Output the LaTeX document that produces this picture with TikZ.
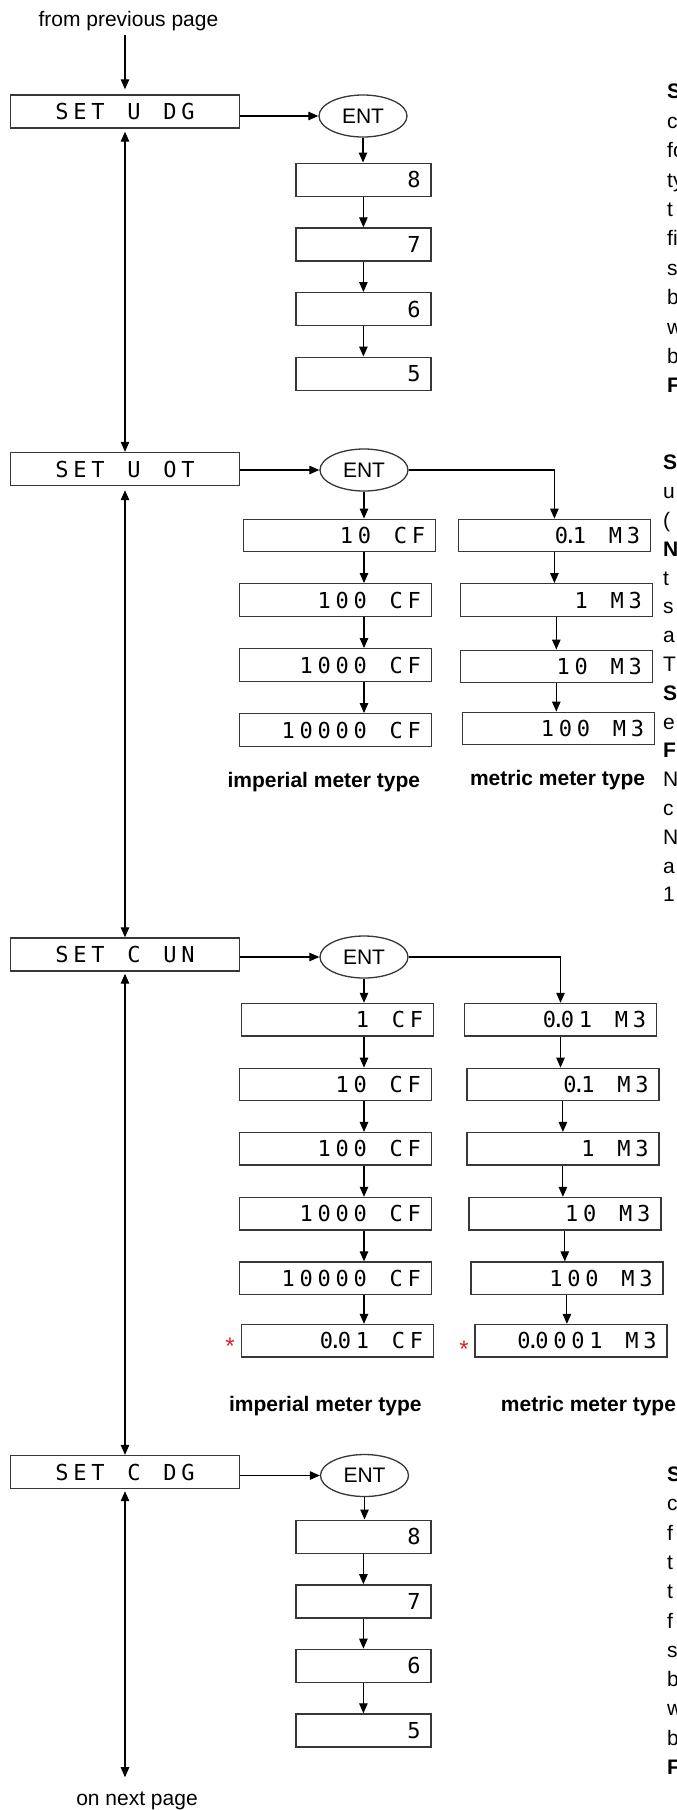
\documentclass[tikz,border=0pt]{standalone}
\usepackage{fontspec}
\setmainfont{Liberation Sans}
\newfontfamily\lcdfont{DejaVu Sans Mono}
\usetikzlibrary{arrows.meta,shapes.geometric}
\definecolor{boxgray}{RGB}{55,55,55}
\definecolor{astred}{RGB}{215,35,45}
\newlength\lcdw
\setlength\lcdw{18pt}
\makeatletter
\def\lcd#1{\lcd@loop#1\relax}
\def\lcd@loop#1{\ifx#1\relax\else\ifx#1.\makebox[0pt][c]{.}\else\makebox[\lcdw][c]{#1}\fi\expandafter\lcd@loop\fi}
\makeatother
\begin{document}
\begin{tikzpicture}[x=1pt,y=-1pt,
  lcdbox/.style={draw=boxgray, line width=1.4pt, minimum height=33pt, inner sep=0pt, font=\lcdfont\fontsize{22}{24}\selectfont},
  setbox/.style={lcdbox, minimum width=229pt},
  numbox/.style={lcdbox, minimum width=135pt, text width=119pt, align=right},
  unitbox/.style={lcdbox, minimum width=192pt, minimum height=32.5pt, text width=176pt, align=right},
  entnode/.style={ellipse, draw=boxgray, line width=1.3pt, minimum width=88pt, minimum height=42pt, inner sep=0pt, font=\fontsize{21}{24}\selectfont},
  arr/.style={-{Triangle[length=10pt,width=8.5pt]}, line width=1.1pt},
  darr/.style={{Triangle[length=10pt,width=8.5pt]}-{Triangle[length=10pt,width=8.5pt]}, line width=1.1pt},
  lbl/.style={font=\fontsize{21}{24}\selectfont, inner sep=0pt, anchor=base},
  typelbl/.style={font=\bfseries\fontsize{21}{24}\selectfont, inner sep=0pt, anchor=base},
  sidetxt/.style={font=\fontsize{21}{24}\selectfont, inner sep=0pt, anchor=base west},
  redstar/.style={text=astred, font=\fontsize{24}{24}\selectfont, inner sep=0pt, anchor=base},
]
\useasboundingbox (0,0) rectangle (677,1810);
\fill[white] (0,0) rectangle (677,1810);

% ---------- SET U DG ----------
\node[lbl] (fromtxt) at (128.4,26) {from previous page};
\node[setbox] (setA) at (125,111.5) {\lcd{SET~U~DG}};
\node[entnode] (entA) at (363,116) {ENT};
\node[numbox] (dA1) at (363.4,179.7) {\lcd{8}};
\node[numbox] (dA2) at (363.4,244.5) {\lcd{7}};
\node[numbox] (dA3) at (363.4,309.2) {\lcd{6}};
\node[numbox] (dA4) at (363.4,373.7) {\lcd{5}};

% ---------- SET U OT ----------
\node[setbox] (setB) at (125,469) {\lcd{SET~U~OT}};
\node[entnode] (entB) at (364,470) {ENT};
\node[unitbox] (iB1) at (339.6,535.5) {\lcd{10~CF}};
\node[unitbox] (iB2) at (335.3,600) {\lcd{100~CF}};
\node[unitbox] (iB3) at (335.3,665) {\lcd{1000~CF}};
\node[unitbox] (iB4) at (335.3,730) {\lcd{10000~CF}};
\node[unitbox] (mB1) at (554.4,535.5) {\lcd{0.1~M3}};
\node[unitbox] (mB2) at (556.3,600) {\lcd{1~M3}};
\node[unitbox] (mB3) at (556.3,666.5) {\lcd{10~M3}};
\node[unitbox] (mB4) at (558.4,728.5) {\lcd{100~M3}};
\node[typelbl] (iBl) at (323.8,787) {imperial meter type};
\node[typelbl] (mBl) at (557.6,785) {metric meter type};

% ---------- SET C UN ----------
\node[setbox] (setC) at (125,954.5) {\lcd{SET~C~UN}};
\node[entnode] (entC) at (364,957) {ENT};
\node[unitbox] (iC1) at (337.4,1019.7) {\lcd{1~CF}};
\node[unitbox] (iC2) at (335.3,1084.5) {\lcd{10~CF}};
\node[unitbox] (iC3) at (335.3,1148.9) {\lcd{100~CF}};
\node[unitbox] (iC4) at (335.3,1213.7) {\lcd{1000~CF}};
\node[unitbox] (iC5) at (335.3,1278.3) {\lcd{10000~CF}};
\node[unitbox] (iC6) at (337.4,1340.8) {\lcd{0.01~CF}};
\node[unitbox] (mC1) at (560.5,1019.7) {\lcd{0.01~M3}};
\node[unitbox] (mC2) at (562.9,1084.5) {\lcd{0.1~M3}};
\node[unitbox] (mC3) at (562.9,1148.9) {\lcd{1~M3}};
\node[unitbox] (mC4) at (564.8,1213.7) {\lcd{10~M3}};
\node[unitbox] (mC5) at (566.9,1278.3) {\lcd{100~M3}};
\node[unitbox] (mC6) at (571,1340.8) {\lcd{0.0001~M3}};
\node[redstar] (starI) at (230,1354) {*};
\node[redstar] (starM) at (464,1357) {*};
\node[typelbl] (iCl) at (325.3,1411.5) {imperial meter type};
\node[typelbl] (mCl) at (588.5,1411.5) {metric meter type};

% ---------- SET C DG ----------
\node[setbox] (setD) at (125,1472) {\lcd{SET~C~DG}};
\node[entnode] (entD) at (364.5,1475.5) {ENT};
\node[numbox] (dD1) at (363.4,1536.7) {\lcd{8}};
\node[numbox] (dD2) at (363.4,1601.3) {\lcd{7}};
\node[numbox] (dD3) at (363.4,1665.8) {\lcd{6}};
\node[numbox] (dD4) at (363.4,1730.5) {\lcd{5}};
\node[lbl] (nexttxt) at (137,1805) {on next page};

% ---------- main spine ----------
\draw[arr, shorten <=4.5pt, shorten >=5pt] (fromtxt.south -| setA.north) -- (setA.north);
\draw[darr, shorten <=3pt] (setA.south) -- (setB.north);
\draw[darr, shorten <=4pt] (setB.south) -- (setC.north);
\draw[darr, shorten <=2pt] (setC.south) -- (setD.north);
\draw[darr, shorten <=2pt, shorten >=14pt] (setD.south) -- (nexttxt.north -| setD.south);

% ---------- SET U DG branch ----------
\draw[arr] (setA.east |- entA.west) -- (entA.west);
\draw[arr] (entA.south) -- (entA.south |- dA1.north);
\draw[arr] (dA1.south) -- (dA2.north);
\draw[arr] (dA2.south) -- (dA3.north);
\draw[arr] (dA3.south) -- (dA4.north);

% ---------- SET U OT branch ----------
\draw[arr] (setB.east |- entB.west) -- (entB.west);
\draw[arr] (entB.south) -- (entB.south |- iB1.north);
\draw[arr] (iB1.south -| entB.south) -- (iB2.north -| entB.south);
\draw[arr] (iB2.south -| entB.south) -- (iB3.north -| entB.south);
\draw[arr] (iB3.south -| entB.south) -- (iB4.north -| entB.south);
\draw[arr] (entB.east) -| (mB1.north);
\draw[arr] (mB1.south) -- (mB1.south |- mB2.north);
\draw[arr] (mB2.south) -- (mB2.south |- mB3.north);
\draw[arr] (mB3.south) -- (mB3.south |- mB4.north);

% ---------- SET C UN branch ----------
\draw[arr] (setC.east |- entC.west) -- (entC.west);
\draw[arr] (entC.south) -- (entC.south |- iC1.north);
\draw[arr] (iC1.south -| entC.south) -- (iC2.north -| entC.south);
\draw[arr] (iC2.south -| entC.south) -- (iC3.north -| entC.south);
\draw[arr] (iC3.south -| entC.south) -- (iC4.north -| entC.south);
\draw[arr] (iC4.south -| entC.south) -- (iC5.north -| entC.south);
\draw[arr] (iC5.south -| entC.south) -- (iC6.north -| entC.south);
\draw[arr] (entC.east) -| (mC1.north);
\draw[arr] (mC1.south) -- (mC1.south |- mC2.north);
\draw[arr] (mC2.south) -- (mC2.south |- mC3.north);
\draw[arr] (mC3.south) -- (mC3.south |- mC4.north);
\draw[arr] (mC4.south) -- (mC4.south |- mC5.north);
\draw[arr] (mC5.south) -- (mC5.south |- mC6.north);

% ---------- SET C DG branch ----------
\draw[arr] (setD.east |- entD.west) -- (entD.west);
\draw[arr] (entD.south) -- (entD.south |- dD1.north);
\draw[arr] (dD1.south) -- (dD2.north);
\draw[arr] (dD2.south) -- (dD3.north);
\draw[arr] (dD3.south) -- (dD4.north);

% ---------- clipped description text at the right edge ----------
\begin{scope}
\clip (0,0) rectangle (677,1810);
\foreach \t [count=\i from 0] in {{\bfseries S},{c},{fo},{ty},{t},{fi},{s},{b},{w},{b},{\bfseries F}}
  \node[sidetxt] (pA\i) at (667,98.8+29.4*\i) {\t};
\foreach \t [count=\i from 0] in {{\bfseries S},{u},{(},{\bfseries N},{t},{s},{a},{T},{\bfseries S},{e},{\bfseries F},{N},{c},{N},{a},{1}}
  \node[sidetxt] (pB\i) at (663,469.8+28.8*\i) {\t};
\foreach \t [count=\i from 0] in {{\bfseries S},{c},{f},{t},{t},{f},{s},{b},{w},{b},{\bfseries F}}
  \node[sidetxt] (pC\i) at (667,1481.5+29.3*\i) {\t};
\end{scope}
\end{tikzpicture}
\end{document}
